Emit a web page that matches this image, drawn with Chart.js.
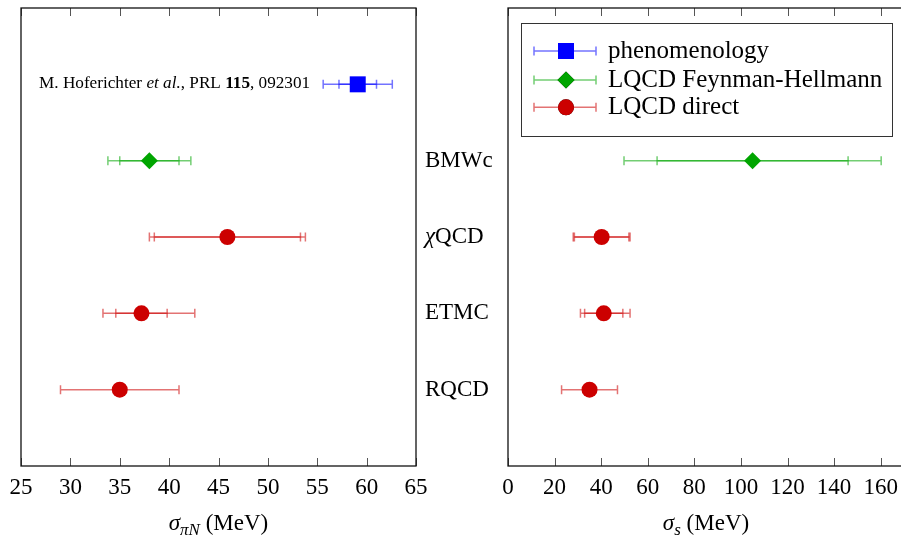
<!DOCTYPE html>
<html>
<head>
<meta charset="utf-8">
<script src="https://cdn.jsdelivr.net/npm/chart.js@4"></script>
<style>
  html, body { margin: 0; padding: 0; background: #fff; overflow: hidden; width: 901px; height: 535px; }
  canvas { position: absolute; top: 0; }
  #piN { left: 0; }
  #sigS { left: 460px; }
</style>
</head>
<body>
<canvas id="piN" width="505" height="535"></canvas>
<canvas id="sigS" width="480" height="535"></canvas>
<script>
'use strict'

const SERIF = '"Liberation Serif", "DejaVu Serif", serif';

// rows from top to bottom
const rowNames = ['phenomenology', 'BMWc', 'χQCD', 'ETMC', 'RQCD'];
const rowPos = [5, 4, 3, 2, 1];
const rowMethod = [0, 1, 2, 2, 2];

const methodNames = ['phenomenology', 'LQCD Feynman-Hellmann', 'LQCD direct'];
const methodColors = ['#0000ff', '#00a500', '#cc0000'];
const methodBars = ['rgba(0,0,255,0.55)', 'rgba(0,165,0,0.55)', 'rgba(204,0,0,0.55)'];
const methodStyles = ['rect', 'rectRot', 'circle'];
const methodRadius = [11.3, 8.5, 8];

// sigma_piN (MeV): value, stat error, total error (minus / plus)
const piNValue = [59.1, 38.0, 45.9, 37.2, 35.0];
const piNStatLo = [1.9, 3.0, 7.4, 2.6, null];
const piNStatHi = [1.9, 3.0, 7.4, 2.6, null];
const piNTotLo = [3.5, 4.2, 7.9, 3.9, 6.0];
const piNTotHi = [3.5, 4.2, 7.9, 5.4, 6.0];

// sigma_s (MeV)
const sValue = [null, 105, 40.2, 41.1, 35];
const sStatLo = [null, 41, 11.7, 8.2, null];
const sStatHi = [null, 41, 11.7, 8.2, null];
const sTotLo = [null, 55.2, 12.2, 10.0, 12];
const sTotHi = [null, 55.2, 12.2, 11.3, 12];

function drawBar(ctx, x0, x1, y, color) {
  ctx.save();
  ctx.strokeStyle = color;
  ctx.lineWidth = 1.5;
  ctx.beginPath();
  ctx.moveTo(x0, y); ctx.lineTo(x1, y);
  ctx.moveTo(x0, y - 4.5); ctx.lineTo(x0, y + 4.5);
  ctx.moveTo(x1, y - 4.5); ctx.lineTo(x1, y + 4.5);
  ctx.stroke();
  ctx.restore();
}

// draws a list of [text, fontPrefix, dy, size] runs starting at x
function drawRuns(ctx, runs, x, y, size, align) {
  let total = 0;
  runs.forEach(r => { ctx.font = r[1] + ' ' + (r[3] || size) + 'px ' + SERIF; total += ctx.measureText(r[0]).width; });
  if (align === 'center') x -= total / 2;
  ctx.fillStyle = '#000';
  ctx.textAlign = 'left';
  runs.forEach(r => {
    ctx.font = r[1] + ' ' + (r[3] || size) + 'px ' + SERIF;
    ctx.fillText(r[0], x, y + (r[2] || 0));
    x += ctx.measureText(r[0]).width;
  });
}

function errorPlugin(statLo, statHi, totLo, totHi) {
  return {
    id: 'errorBars',
    beforeDatasetsDraw(chart) {
      const ctx = chart.ctx, xs = chart.scales.x, ys = chart.scales.y;
      chart.data.datasets.forEach(ds => {
        ds.data.forEach(p => {
          const y = ys.getPixelForValue(p.y);
          [[totLo[p.i], totHi[p.i]], [statLo[p.i], statHi[p.i]]].forEach(([lo, hi]) => {
            if (lo == null) return;
            drawBar(ctx, xs.getPixelForValue(p.x - lo), xs.getPixelForValue(p.x + hi), y, ds.barColor);
          });
        });
      });
    }
  };
}

function framePlugin(title, sub, extra) {
  return {
    id: 'frame',
    afterDraw(chart) {
      const ctx = chart.ctx, a = chart.chartArea, xs = chart.scales.x;
      ctx.save();
      ctx.strokeStyle = '#555';
      ctx.lineWidth = 1;
      ctx.beginPath();
      xs.ticks.forEach(t => {
        const x = Math.round(xs.getPixelForValue(t.value)) + 0.5;
        ctx.moveTo(x, a.top); ctx.lineTo(x, a.top + 8);
        ctx.moveTo(x, a.bottom); ctx.lineTo(x, a.bottom - 8);
      });
      ctx.stroke();
      ctx.strokeStyle = '#111';
      ctx.lineWidth = 1.3;
      ctx.strokeRect(a.left, a.top, a.right - a.left, a.bottom - a.top);
      ctx.textBaseline = 'alphabetic';
      drawRuns(ctx, [['σ', 'italic'], [sub, 'italic', 5, 17], [' (MeV)', '']], (a.left + a.right) / 2, 530, 23, 'center');
      if (extra) extra(chart);
      ctx.restore();
    }
  };
}

function buildDatasets(values) {
  return methodNames.map((name, m) => ({
    label: name,
    barColor: methodBars[m],
    backgroundColor: methodColors[m],
    borderColor: methodColors[m],
    borderWidth: 0,
    pointStyle: methodStyles[m],
    pointRadius: methodRadius[m],
    data: rowNames.map((r, i) => ({ x: values[i], y: rowPos[i], i: i }))
      .filter(p => rowMethod[p.i] === m && p.x != null),
  }));
}

function makeChart(id, values, errs, xmin, xmax, step, pad, title, sub, extra) {
  return new Chart(document.getElementById(id), {
    type: 'scatter',
    data: { datasets: buildDatasets(values) },
    options: {
      responsive: false,
      animation: false,
      events: [],
      layout: { padding: pad, autoPadding: false },
      plugins: { legend: { display: false }, tooltip: { enabled: false } },
      scales: {
        x: {
          type: 'linear', min: xmin, max: xmax,
          grid: { display: false, drawTicks: false },
          border: { display: false },
          ticks: { stepSize: step, includeBounds: false, autoSkip: false, maxRotation: 0, padding: 8,
                   color: '#000', font: { family: SERIF, size: 23 } },
          afterFit(s) { s.height = 69; }
        },
        y: { type: 'linear', min: 0, max: 6, display: false }
      }
    },
    plugins: [errorPlugin(...errs), framePlugin(title, sub, extra)]
  });
}

// left panel: sigma_piN, with row labels and reference note
makeChart('piN', piNValue, [piNStatLo, piNStatHi, piNTotLo, piNTotHi], 25, 65, 5,
  { left: 21, right: 89, top: 8, bottom: 0 }, 'piN', 'πN', chart => {
    const ctx = chart.ctx, ys = chart.scales.y;
    ctx.textBaseline = 'middle';
    rowNames.forEach((name, i) => {
      if (i === 0) return;
      const runs = name.startsWith('χ') ? [['χ', 'italic'], [name.slice(1), '']] : [[name, '']];
      drawRuns(ctx, runs, 425, ys.getPixelForValue(rowPos[i]), 23, 'left');
    });
    drawRuns(ctx, [['M. Hoferichter ', ''], ['et al.', 'italic'], [', PRL ', ''], ['115', 'bold'], [', 092301', '']],
      39, ys.getPixelForValue(rowPos[0]) - 1, 17.2, 'left');
  });

// right panel: sigma_s, with legend
makeChart('sigS', sValue, [sStatLo, sStatHi, sTotLo, sTotHi], 0, 170, 20,
  { left: 48, right: 36, top: 8, bottom: 0 }, 's', 's', chart => {
    const ctx = chart.ctx;
    const bx = 521 - 460, by = 23, bw = 371, bh = 113;
    ctx.fillStyle = '#fff';
    ctx.fillRect(bx, by, bw, bh);
    ctx.strokeStyle = '#333';
    ctx.lineWidth = 1;
    ctx.strokeRect(bx + 0.5, by + 0.5, bw, bh);
    const rowsY = [51, 80, 107.3];
    methodNames.forEach((name, m) => {
      const y = rowsY[m];
      drawBar(ctx, 534 - 460, 596 - 460, y, methodBars[m]);
      Chart.helpers.drawPoint(ctx, { pointStyle: methodStyles[m], radius: methodRadius[m], borderWidth: 0 }, 566 - 460, y);
      ctx.fillStyle = methodColors[m];
      ctx.fill();
      ctx.textBaseline = 'alphabetic';
      drawRuns(ctx, [[name, '']], 608 - 460, y + 7, 25, 'left');
    });
  });
</script>
</body>
</html>
